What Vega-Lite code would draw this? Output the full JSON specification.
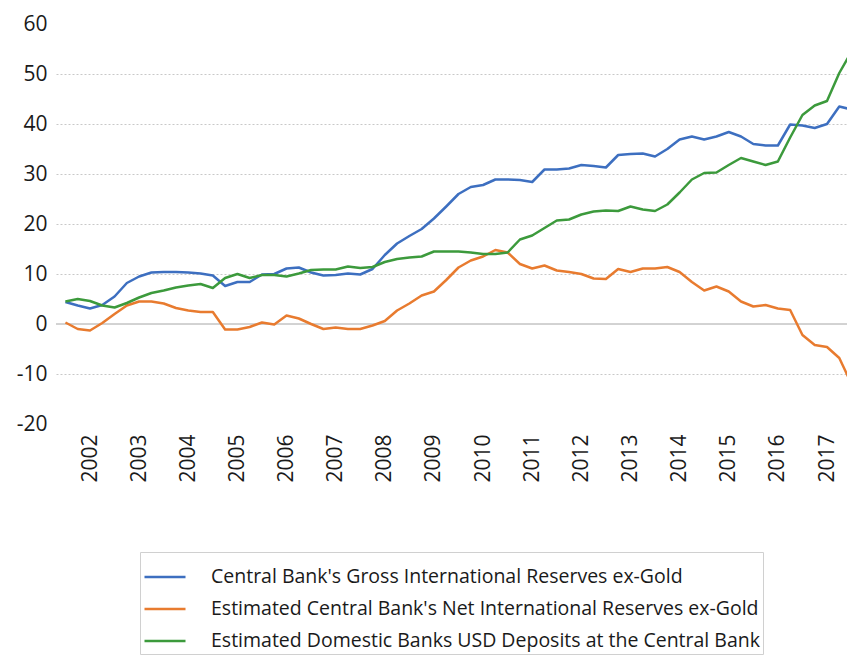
{
  "$schema": "https://vega.github.io/schema/vega-lite/v6.json",
  "width": 791,
  "height": 400,
  "autosize": {"type": "none"},
  "padding": {"left": 56, "top": 24, "right": 0, "bottom": 232},
  "background": "white",
  "config": {
    "view": {"stroke": null},
    "font": "Open Sans"
  },
  "layer": [
    {
      "data": {"values": [{"zero": 0}]},
      "mark": {"type": "rule", "color": "#a6a6a6", "strokeWidth": 1},
      "encoding": {"y": {"field": "zero", "type": "quantitative"}}
    },
    {
      "data": {"values": [
        {"t":2001.5,"s":"Central Bank's Gross International Reserves ex-Gold","v":4.4},{"t":2001.75,"s":"Central Bank's Gross International Reserves ex-Gold","v":3.7},{"t":2002.0,"s":"Central Bank's Gross International Reserves ex-Gold","v":3.1},{"t":2002.25,"s":"Central Bank's Gross International Reserves ex-Gold","v":3.8},{"t":2002.5,"s":"Central Bank's Gross International Reserves ex-Gold","v":5.5},{"t":2002.75,"s":"Central Bank's Gross International Reserves ex-Gold","v":8.2},{"t":2003.0,"s":"Central Bank's Gross International Reserves ex-Gold","v":9.5},{"t":2003.25,"s":"Central Bank's Gross International Reserves ex-Gold","v":10.3},{"t":2003.5,"s":"Central Bank's Gross International Reserves ex-Gold","v":10.4},{"t":2003.75,"s":"Central Bank's Gross International Reserves ex-Gold","v":10.4},
        {"t":2004.0,"s":"Central Bank's Gross International Reserves ex-Gold","v":10.3},{"t":2004.25,"s":"Central Bank's Gross International Reserves ex-Gold","v":10.1},{"t":2004.5,"s":"Central Bank's Gross International Reserves ex-Gold","v":9.7},{"t":2004.75,"s":"Central Bank's Gross International Reserves ex-Gold","v":7.6},{"t":2005.0,"s":"Central Bank's Gross International Reserves ex-Gold","v":8.4},{"t":2005.25,"s":"Central Bank's Gross International Reserves ex-Gold","v":8.4},{"t":2005.5,"s":"Central Bank's Gross International Reserves ex-Gold","v":9.9},{"t":2005.75,"s":"Central Bank's Gross International Reserves ex-Gold","v":10.0},{"t":2006.0,"s":"Central Bank's Gross International Reserves ex-Gold","v":11.1},{"t":2006.25,"s":"Central Bank's Gross International Reserves ex-Gold","v":11.3},
        {"t":2006.5,"s":"Central Bank's Gross International Reserves ex-Gold","v":10.3},{"t":2006.75,"s":"Central Bank's Gross International Reserves ex-Gold","v":9.7},{"t":2007.0,"s":"Central Bank's Gross International Reserves ex-Gold","v":9.8},{"t":2007.25,"s":"Central Bank's Gross International Reserves ex-Gold","v":10.1},{"t":2007.5,"s":"Central Bank's Gross International Reserves ex-Gold","v":9.9},{"t":2007.75,"s":"Central Bank's Gross International Reserves ex-Gold","v":11.0},{"t":2008.0,"s":"Central Bank's Gross International Reserves ex-Gold","v":13.8},{"t":2008.25,"s":"Central Bank's Gross International Reserves ex-Gold","v":16.1},{"t":2008.5,"s":"Central Bank's Gross International Reserves ex-Gold","v":17.6},{"t":2008.75,"s":"Central Bank's Gross International Reserves ex-Gold","v":19.0},
        {"t":2009.0,"s":"Central Bank's Gross International Reserves ex-Gold","v":21.1},{"t":2009.25,"s":"Central Bank's Gross International Reserves ex-Gold","v":23.5},{"t":2009.5,"s":"Central Bank's Gross International Reserves ex-Gold","v":26.0},{"t":2009.75,"s":"Central Bank's Gross International Reserves ex-Gold","v":27.4},{"t":2010.0,"s":"Central Bank's Gross International Reserves ex-Gold","v":27.8},{"t":2010.25,"s":"Central Bank's Gross International Reserves ex-Gold","v":28.9},{"t":2010.5,"s":"Central Bank's Gross International Reserves ex-Gold","v":28.9},{"t":2010.75,"s":"Central Bank's Gross International Reserves ex-Gold","v":28.8},{"t":2011.0,"s":"Central Bank's Gross International Reserves ex-Gold","v":28.4},{"t":2011.25,"s":"Central Bank's Gross International Reserves ex-Gold","v":30.9},
        {"t":2011.5,"s":"Central Bank's Gross International Reserves ex-Gold","v":30.9},{"t":2011.75,"s":"Central Bank's Gross International Reserves ex-Gold","v":31.1},{"t":2012.0,"s":"Central Bank's Gross International Reserves ex-Gold","v":31.8},{"t":2012.25,"s":"Central Bank's Gross International Reserves ex-Gold","v":31.6},{"t":2012.5,"s":"Central Bank's Gross International Reserves ex-Gold","v":31.3},{"t":2012.75,"s":"Central Bank's Gross International Reserves ex-Gold","v":33.8},{"t":2013.0,"s":"Central Bank's Gross International Reserves ex-Gold","v":34.0},{"t":2013.25,"s":"Central Bank's Gross International Reserves ex-Gold","v":34.1},{"t":2013.5,"s":"Central Bank's Gross International Reserves ex-Gold","v":33.5},{"t":2013.75,"s":"Central Bank's Gross International Reserves ex-Gold","v":35.0},
        {"t":2014.0,"s":"Central Bank's Gross International Reserves ex-Gold","v":36.9},{"t":2014.25,"s":"Central Bank's Gross International Reserves ex-Gold","v":37.5},{"t":2014.5,"s":"Central Bank's Gross International Reserves ex-Gold","v":36.9},{"t":2014.75,"s":"Central Bank's Gross International Reserves ex-Gold","v":37.5},{"t":2015.0,"s":"Central Bank's Gross International Reserves ex-Gold","v":38.4},{"t":2015.25,"s":"Central Bank's Gross International Reserves ex-Gold","v":37.5},{"t":2015.5,"s":"Central Bank's Gross International Reserves ex-Gold","v":36.0},{"t":2015.75,"s":"Central Bank's Gross International Reserves ex-Gold","v":35.7},{"t":2016.0,"s":"Central Bank's Gross International Reserves ex-Gold","v":35.7},{"t":2016.25,"s":"Central Bank's Gross International Reserves ex-Gold","v":39.9},
        {"t":2016.5,"s":"Central Bank's Gross International Reserves ex-Gold","v":39.7},{"t":2016.75,"s":"Central Bank's Gross International Reserves ex-Gold","v":39.2},{"t":2017.0,"s":"Central Bank's Gross International Reserves ex-Gold","v":40.0},{"t":2017.25,"s":"Central Bank's Gross International Reserves ex-Gold","v":43.5},{"t":2017.5,"s":"Central Bank's Gross International Reserves ex-Gold","v":42.9},

        {"t":2001.5,"s":"Estimated Central Bank's Net International Reserves ex-Gold","v":0.3},{"t":2001.75,"s":"Estimated Central Bank's Net International Reserves ex-Gold","v":-1.0},{"t":2002.0,"s":"Estimated Central Bank's Net International Reserves ex-Gold","v":-1.3},{"t":2002.25,"s":"Estimated Central Bank's Net International Reserves ex-Gold","v":0.2},{"t":2002.5,"s":"Estimated Central Bank's Net International Reserves ex-Gold","v":2.0},{"t":2002.75,"s":"Estimated Central Bank's Net International Reserves ex-Gold","v":3.7},{"t":2003.0,"s":"Estimated Central Bank's Net International Reserves ex-Gold","v":4.5},{"t":2003.25,"s":"Estimated Central Bank's Net International Reserves ex-Gold","v":4.5},{"t":2003.5,"s":"Estimated Central Bank's Net International Reserves ex-Gold","v":4.1},{"t":2003.75,"s":"Estimated Central Bank's Net International Reserves ex-Gold","v":3.2},
        {"t":2004.0,"s":"Estimated Central Bank's Net International Reserves ex-Gold","v":2.7},{"t":2004.25,"s":"Estimated Central Bank's Net International Reserves ex-Gold","v":2.4},{"t":2004.5,"s":"Estimated Central Bank's Net International Reserves ex-Gold","v":2.4},{"t":2004.75,"s":"Estimated Central Bank's Net International Reserves ex-Gold","v":-1.1},{"t":2005.0,"s":"Estimated Central Bank's Net International Reserves ex-Gold","v":-1.1},{"t":2005.25,"s":"Estimated Central Bank's Net International Reserves ex-Gold","v":-0.6},{"t":2005.5,"s":"Estimated Central Bank's Net International Reserves ex-Gold","v":0.3},{"t":2005.75,"s":"Estimated Central Bank's Net International Reserves ex-Gold","v":-0.1},{"t":2006.0,"s":"Estimated Central Bank's Net International Reserves ex-Gold","v":1.7},{"t":2006.25,"s":"Estimated Central Bank's Net International Reserves ex-Gold","v":1.1},
        {"t":2006.5,"s":"Estimated Central Bank's Net International Reserves ex-Gold","v":0.0},{"t":2006.75,"s":"Estimated Central Bank's Net International Reserves ex-Gold","v":-1.0},{"t":2007.0,"s":"Estimated Central Bank's Net International Reserves ex-Gold","v":-0.7},{"t":2007.25,"s":"Estimated Central Bank's Net International Reserves ex-Gold","v":-1.0},{"t":2007.5,"s":"Estimated Central Bank's Net International Reserves ex-Gold","v":-1.0},{"t":2007.75,"s":"Estimated Central Bank's Net International Reserves ex-Gold","v":-0.3},{"t":2008.0,"s":"Estimated Central Bank's Net International Reserves ex-Gold","v":0.6},{"t":2008.25,"s":"Estimated Central Bank's Net International Reserves ex-Gold","v":2.7},{"t":2008.5,"s":"Estimated Central Bank's Net International Reserves ex-Gold","v":4.1},{"t":2008.75,"s":"Estimated Central Bank's Net International Reserves ex-Gold","v":5.7},
        {"t":2009.0,"s":"Estimated Central Bank's Net International Reserves ex-Gold","v":6.5},{"t":2009.25,"s":"Estimated Central Bank's Net International Reserves ex-Gold","v":8.8},{"t":2009.5,"s":"Estimated Central Bank's Net International Reserves ex-Gold","v":11.3},{"t":2009.75,"s":"Estimated Central Bank's Net International Reserves ex-Gold","v":12.7},{"t":2010.0,"s":"Estimated Central Bank's Net International Reserves ex-Gold","v":13.5},{"t":2010.25,"s":"Estimated Central Bank's Net International Reserves ex-Gold","v":14.8},{"t":2010.5,"s":"Estimated Central Bank's Net International Reserves ex-Gold","v":14.3},{"t":2010.75,"s":"Estimated Central Bank's Net International Reserves ex-Gold","v":12.0},{"t":2011.0,"s":"Estimated Central Bank's Net International Reserves ex-Gold","v":11.1},{"t":2011.25,"s":"Estimated Central Bank's Net International Reserves ex-Gold","v":11.7},
        {"t":2011.5,"s":"Estimated Central Bank's Net International Reserves ex-Gold","v":10.7},{"t":2011.75,"s":"Estimated Central Bank's Net International Reserves ex-Gold","v":10.4},{"t":2012.0,"s":"Estimated Central Bank's Net International Reserves ex-Gold","v":10.0},{"t":2012.25,"s":"Estimated Central Bank's Net International Reserves ex-Gold","v":9.1},{"t":2012.5,"s":"Estimated Central Bank's Net International Reserves ex-Gold","v":9.0},{"t":2012.75,"s":"Estimated Central Bank's Net International Reserves ex-Gold","v":11.0},{"t":2013.0,"s":"Estimated Central Bank's Net International Reserves ex-Gold","v":10.4},{"t":2013.25,"s":"Estimated Central Bank's Net International Reserves ex-Gold","v":11.1},{"t":2013.5,"s":"Estimated Central Bank's Net International Reserves ex-Gold","v":11.1},{"t":2013.75,"s":"Estimated Central Bank's Net International Reserves ex-Gold","v":11.4},
        {"t":2014.0,"s":"Estimated Central Bank's Net International Reserves ex-Gold","v":10.4},{"t":2014.25,"s":"Estimated Central Bank's Net International Reserves ex-Gold","v":8.4},{"t":2014.5,"s":"Estimated Central Bank's Net International Reserves ex-Gold","v":6.7},{"t":2014.75,"s":"Estimated Central Bank's Net International Reserves ex-Gold","v":7.5},{"t":2015.0,"s":"Estimated Central Bank's Net International Reserves ex-Gold","v":6.5},{"t":2015.25,"s":"Estimated Central Bank's Net International Reserves ex-Gold","v":4.5},{"t":2015.5,"s":"Estimated Central Bank's Net International Reserves ex-Gold","v":3.5},{"t":2015.75,"s":"Estimated Central Bank's Net International Reserves ex-Gold","v":3.8},{"t":2016.0,"s":"Estimated Central Bank's Net International Reserves ex-Gold","v":3.1},{"t":2016.25,"s":"Estimated Central Bank's Net International Reserves ex-Gold","v":2.8},
        {"t":2016.5,"s":"Estimated Central Bank's Net International Reserves ex-Gold","v":-2.2},{"t":2016.75,"s":"Estimated Central Bank's Net International Reserves ex-Gold","v":-4.2},{"t":2017.0,"s":"Estimated Central Bank's Net International Reserves ex-Gold","v":-4.6},{"t":2017.25,"s":"Estimated Central Bank's Net International Reserves ex-Gold","v":-6.8},{"t":2017.5,"s":"Estimated Central Bank's Net International Reserves ex-Gold","v":-12.0},

        {"t":2001.5,"s":"Estimated Domestic Banks USD Deposits at the Central Bank","v":4.5},{"t":2001.75,"s":"Estimated Domestic Banks USD Deposits at the Central Bank","v":5.0},{"t":2002.0,"s":"Estimated Domestic Banks USD Deposits at the Central Bank","v":4.6},{"t":2002.25,"s":"Estimated Domestic Banks USD Deposits at the Central Bank","v":3.7},{"t":2002.5,"s":"Estimated Domestic Banks USD Deposits at the Central Bank","v":3.3},{"t":2002.75,"s":"Estimated Domestic Banks USD Deposits at the Central Bank","v":4.2},{"t":2003.0,"s":"Estimated Domestic Banks USD Deposits at the Central Bank","v":5.3},{"t":2003.25,"s":"Estimated Domestic Banks USD Deposits at the Central Bank","v":6.2},{"t":2003.5,"s":"Estimated Domestic Banks USD Deposits at the Central Bank","v":6.7},{"t":2003.75,"s":"Estimated Domestic Banks USD Deposits at the Central Bank","v":7.3},
        {"t":2004.0,"s":"Estimated Domestic Banks USD Deposits at the Central Bank","v":7.7},{"t":2004.25,"s":"Estimated Domestic Banks USD Deposits at the Central Bank","v":8.0},{"t":2004.5,"s":"Estimated Domestic Banks USD Deposits at the Central Bank","v":7.2},{"t":2004.75,"s":"Estimated Domestic Banks USD Deposits at the Central Bank","v":9.2},{"t":2005.0,"s":"Estimated Domestic Banks USD Deposits at the Central Bank","v":10.0},{"t":2005.25,"s":"Estimated Domestic Banks USD Deposits at the Central Bank","v":9.2},{"t":2005.5,"s":"Estimated Domestic Banks USD Deposits at the Central Bank","v":9.8},{"t":2005.75,"s":"Estimated Domestic Banks USD Deposits at the Central Bank","v":9.8},{"t":2006.0,"s":"Estimated Domestic Banks USD Deposits at the Central Bank","v":9.5},{"t":2006.25,"s":"Estimated Domestic Banks USD Deposits at the Central Bank","v":10.1},
        {"t":2006.5,"s":"Estimated Domestic Banks USD Deposits at the Central Bank","v":10.8},{"t":2006.75,"s":"Estimated Domestic Banks USD Deposits at the Central Bank","v":10.9},{"t":2007.0,"s":"Estimated Domestic Banks USD Deposits at the Central Bank","v":10.9},{"t":2007.25,"s":"Estimated Domestic Banks USD Deposits at the Central Bank","v":11.5},{"t":2007.5,"s":"Estimated Domestic Banks USD Deposits at the Central Bank","v":11.2},{"t":2007.75,"s":"Estimated Domestic Banks USD Deposits at the Central Bank","v":11.4},{"t":2008.0,"s":"Estimated Domestic Banks USD Deposits at the Central Bank","v":12.4},{"t":2008.25,"s":"Estimated Domestic Banks USD Deposits at the Central Bank","v":13.0},{"t":2008.5,"s":"Estimated Domestic Banks USD Deposits at the Central Bank","v":13.3},{"t":2008.75,"s":"Estimated Domestic Banks USD Deposits at the Central Bank","v":13.5},
        {"t":2009.0,"s":"Estimated Domestic Banks USD Deposits at the Central Bank","v":14.5},{"t":2009.25,"s":"Estimated Domestic Banks USD Deposits at the Central Bank","v":14.5},{"t":2009.5,"s":"Estimated Domestic Banks USD Deposits at the Central Bank","v":14.5},{"t":2009.75,"s":"Estimated Domestic Banks USD Deposits at the Central Bank","v":14.3},{"t":2010.0,"s":"Estimated Domestic Banks USD Deposits at the Central Bank","v":14.0},{"t":2010.25,"s":"Estimated Domestic Banks USD Deposits at the Central Bank","v":14.0},{"t":2010.5,"s":"Estimated Domestic Banks USD Deposits at the Central Bank","v":14.3},{"t":2010.75,"s":"Estimated Domestic Banks USD Deposits at the Central Bank","v":16.9},{"t":2011.0,"s":"Estimated Domestic Banks USD Deposits at the Central Bank","v":17.7},{"t":2011.25,"s":"Estimated Domestic Banks USD Deposits at the Central Bank","v":19.2},
        {"t":2011.5,"s":"Estimated Domestic Banks USD Deposits at the Central Bank","v":20.7},{"t":2011.75,"s":"Estimated Domestic Banks USD Deposits at the Central Bank","v":20.9},{"t":2012.0,"s":"Estimated Domestic Banks USD Deposits at the Central Bank","v":21.9},{"t":2012.25,"s":"Estimated Domestic Banks USD Deposits at the Central Bank","v":22.5},{"t":2012.5,"s":"Estimated Domestic Banks USD Deposits at the Central Bank","v":22.7},{"t":2012.75,"s":"Estimated Domestic Banks USD Deposits at the Central Bank","v":22.6},{"t":2013.0,"s":"Estimated Domestic Banks USD Deposits at the Central Bank","v":23.5},{"t":2013.25,"s":"Estimated Domestic Banks USD Deposits at the Central Bank","v":22.9},{"t":2013.5,"s":"Estimated Domestic Banks USD Deposits at the Central Bank","v":22.6},{"t":2013.75,"s":"Estimated Domestic Banks USD Deposits at the Central Bank","v":23.9},
        {"t":2014.0,"s":"Estimated Domestic Banks USD Deposits at the Central Bank","v":26.3},{"t":2014.25,"s":"Estimated Domestic Banks USD Deposits at the Central Bank","v":28.9},{"t":2014.5,"s":"Estimated Domestic Banks USD Deposits at the Central Bank","v":30.2},{"t":2014.75,"s":"Estimated Domestic Banks USD Deposits at the Central Bank","v":30.3},{"t":2015.0,"s":"Estimated Domestic Banks USD Deposits at the Central Bank","v":31.8},{"t":2015.25,"s":"Estimated Domestic Banks USD Deposits at the Central Bank","v":33.2},{"t":2015.5,"s":"Estimated Domestic Banks USD Deposits at the Central Bank","v":32.5},{"t":2015.75,"s":"Estimated Domestic Banks USD Deposits at the Central Bank","v":31.8},{"t":2016.0,"s":"Estimated Domestic Banks USD Deposits at the Central Bank","v":32.5},{"t":2016.25,"s":"Estimated Domestic Banks USD Deposits at the Central Bank","v":37.3},
        {"t":2016.5,"s":"Estimated Domestic Banks USD Deposits at the Central Bank","v":41.8},{"t":2016.75,"s":"Estimated Domestic Banks USD Deposits at the Central Bank","v":43.7},{"t":2017.0,"s":"Estimated Domestic Banks USD Deposits at the Central Bank","v":44.6},{"t":2017.25,"s":"Estimated Domestic Banks USD Deposits at the Central Bank","v":50.2},{"t":2017.5,"s":"Estimated Domestic Banks USD Deposits at the Central Bank","v":54.5}
      ]},
      "mark": {"type": "line", "strokeWidth": 2.5, "clip": true, "strokeJoin": "round"},
      "encoding": {
        "x": {
          "field": "t", "type": "quantitative",
          "scale": {"domain": [2001.308, 2017.407], "nice": false, "zero": false},
          "axis": {
            "title": null, "values": [2002,2003,2004,2005,2006,2007,2008,2009,2010,2011,2012,2013,2014,2015,2016,2017],
            "format": "d", "labelAngle": -90, "labelFontSize": 21, "labelFont": "Open Sans", "labelColor": "#1a1a1a",
            "domain": false, "ticks": false, "grid": false, "labelPadding": 10, "labelFlush": false, "labelOverlap": false
          }
        },
        "y": {
          "field": "v", "type": "quantitative",
          "scale": {"domain": [-20, 60], "nice": false},
          "axis": {
            "title": null, "values": [-20,-10,0,10,20,30,40,50,60],
            "labelExpr": "datum.value < 0 ? '-' + abs(datum.value) : '' + datum.value",
            "labelFontSize": 21, "labelFont": "Open Sans", "labelColor": "#1a1a1a",
            "domain": false, "ticks": false, "labelPadding": 9,
            "grid": true, "gridColor": "#c8c8c8", "gridDash": [2, 2], "gridWidth": 1,
            "gridOpacity": {"condition": {"test": "datum.value == 60 || datum.value == -20 || datum.value == 0", "value": 0}, "value": 1}
          }
        },
        "color": {
          "field": "s", "type": "nominal",
          "scale": {
            "domain": ["Central Bank's Gross International Reserves ex-Gold", "Estimated Central Bank's Net International Reserves ex-Gold", "Estimated Domestic Banks USD Deposits at the Central Bank"],
            "range": ["#3d6fc0", "#e87b2f", "#3c9a3c"]
          },
          "legend": {
            "title": null, "orient": "none", "legendX": 84, "legendY": 528, "direction": "vertical",
            "symbolType": "stroke", "symbolSize": 1681, "symbolStrokeWidth": 2.5,
            "labelFontSize": 19.5, "labelFont": "Open Sans", "labelColor": "#1a1a1a", "labelLimit": 0,
            "labelOffset": 24, "rowPadding": 0,
            "strokeColor": "#d0d0d0", "padding": 3, "fillColor": "white"
          }
        }
      }
    }
  ]
}
